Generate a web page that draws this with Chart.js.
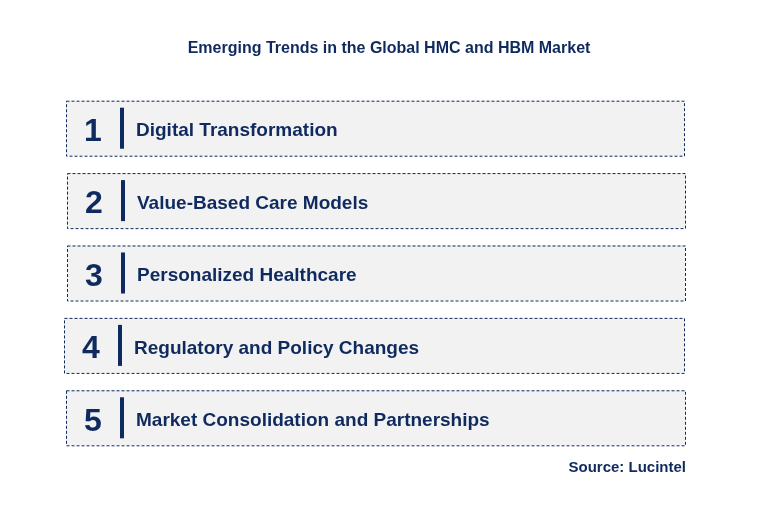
<!DOCTYPE html>
<html>
<head>
<meta charset="utf-8">
<script src="https://cdn.jsdelivr.net/npm/chart.js@4"></script>
<style>
  body { margin: 0; background: #fff; }
  canvas { display: block; }
</style>
</head>
<body>
<canvas id="trendChart" width="757" height="520"></canvas>
<script>
const chartTitle = 'Emerging Trends in the Global HMC and HBM Market';
const sourceText = 'Source: Lucintel';
const trendNumbers = ['1', '2', '3', '4', '5'];
const trendLabels = [
  'Digital Transformation',
  'Value-Based Care Models',
  'Personalized Healthcare',
  'Regulatory and Policy Changes',
  'Market Consolidation and Partnerships'
];
const boxSpans = [[66, 684], [67, 685], [67, 685], [64, 684], [66, 685]];

const navy = '#0f2a5e';

const listPlugin = {
  id: 'listPlugin',
  afterDatasetsDraw(chart) {
    const ctx = chart.ctx;
    const bars = chart.getDatasetMeta(0).data;
    ctx.save();
    ctx.fillStyle = navy;
    ctx.font = 'bold 16px "Liberation Sans", Arial, sans-serif';
    ctx.textAlign = 'center';
    ctx.textBaseline = 'middle';
    ctx.fillText(chartTitle, 389, 49);

    bars.forEach((bar, i) => {
      const left = Math.min(bar.x, bar.base);
      const right = Math.max(bar.x, bar.base);
      const top = bar.y - bar.height / 2;
      const h = bar.height;
      ctx.setLineDash([3, 2]);
      ctx.strokeStyle = navy;
      ctx.lineWidth = 1;
      ctx.strokeRect(left + 0.5, top + 0.5, right - left, h);
      ctx.setLineDash([]);

      ctx.fillStyle = navy;
      ctx.font = 'bold 32px "Liberation Sans", Arial, sans-serif';
      ctx.textAlign = 'center';
      ctx.fillText(trendNumbers[i], left + 27, bar.y + 4);
      ctx.fillRect(left + 54, top + 7, 4, h - 14);

      ctx.font = 'bold 19px "Liberation Sans", Arial, sans-serif';
      ctx.textAlign = 'left';
      ctx.fillText(trendLabels[i], left + 70, bar.y + 3);
    });

    ctx.font = 'bold 15px "Liberation Sans", Arial, sans-serif';
    ctx.textAlign = 'right';
    ctx.fillText(sourceText, 686, 468);
    ctx.restore();
  }
};

new Chart(document.getElementById('trendChart'), {
  type: 'bar',
  data: {
    labels: trendLabels,
    datasets: [{
      data: boxSpans,
      backgroundColor: '#f2f2f2',
      borderWidth: 0,
      barPercentage: 0.76,
      categoryPercentage: 1
    }]
  },
  options: {
    responsive: false,
    animation: false,
    indexAxis: 'y',
    layout: { padding: { top: 92, bottom: 66, left: 0, right: 0 } },
    scales: {
      x: { display: false, min: 0, max: 757 },
      y: { display: false }
    },
    plugins: {
      legend: { display: false },
      tooltip: { enabled: false }
    }
  },
  plugins: [listPlugin]
});
</script>
</body>
</html>
